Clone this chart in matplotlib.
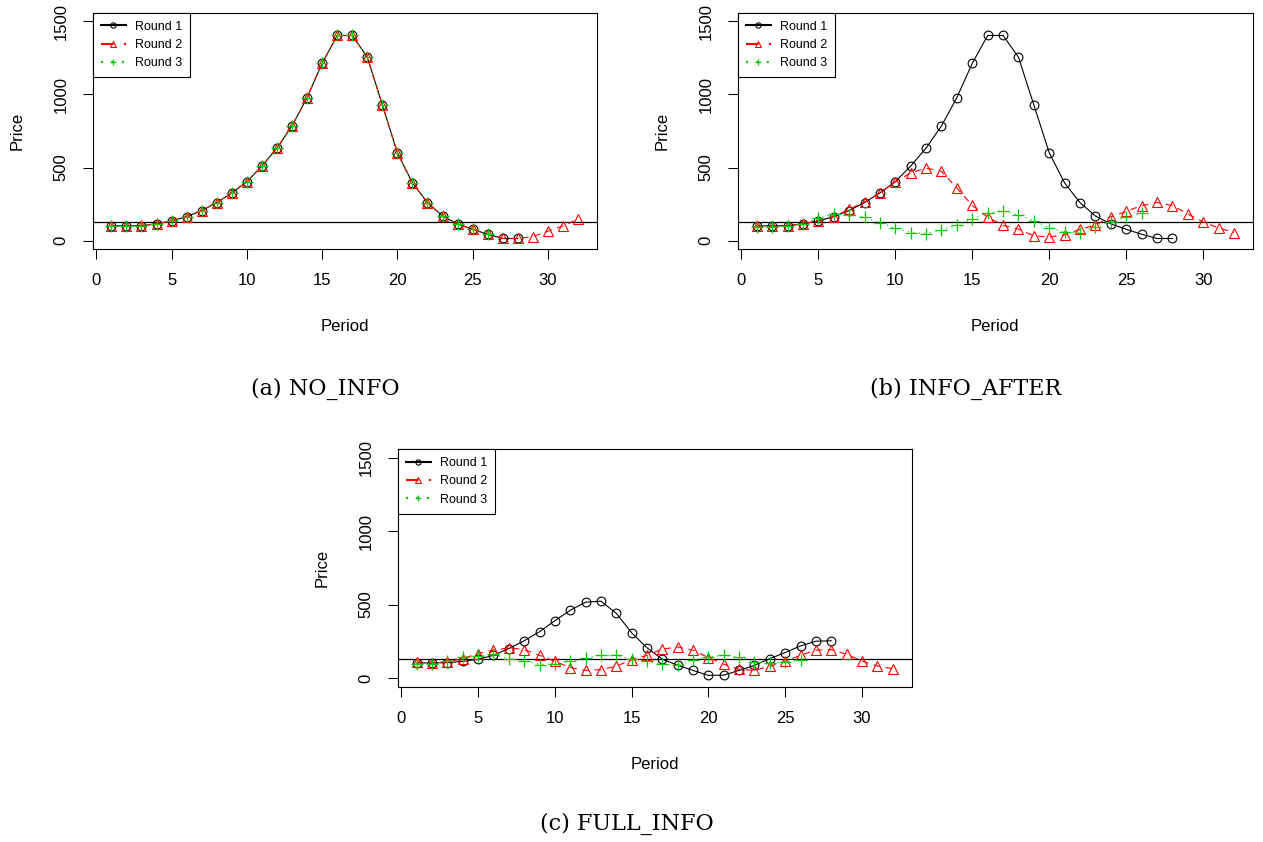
import numpy as np
import matplotlib
matplotlib.use('Agg')
import matplotlib.pyplot as plt

plt.rcParams['font.family'] = ['Liberation Sans', 'DejaVu Sans']

# Price per period
round1 = [100, 100, 102, 114, 134, 164, 205, 260, 326, 403, 510, 633, 785, 979,
          1213, 1404, 1404, 1256, 929, 601, 394, 260, 168, 114, 77, 43, 14, 14]

no_info_r1 = round1
no_info_r2 = round1 + [27, 64, 100, 146]
no_info_r3 = round1[:26]

after_r1 = round1
after_r2 = [100, 100, 102, 114, 137, 164, 214, 264, 326, 402, 463, 496, 474, 360,
            240, 160, 104, 78, 32, 24, 39, 76, 107, 162, 200, 239, 261, 239,
            183, 127, 87, 55]
after_r3 = [96, 96, 100, 114, 153, 182, 178, 162, 123, 85, 55, 48, 73, 107,
            148, 188, 203, 175, 134, 88, 57, 54, 95, 130, 162, 186]

full_r1 = [102, 102, 104, 113, 127, 154, 200, 253, 315, 390, 461, 516, 523, 440,
           307, 205, 127, 86, 51, 17, 19, 51, 86, 131, 173, 218, 250, 253]
full_r2 = [109, 102, 109, 132, 166, 189, 205, 193, 154, 113, 70, 51, 56, 79,
           125, 154, 196, 211, 189, 138, 93, 58, 51, 79, 113, 154, 189, 193,
           161, 115, 81, 63]
full_r3 = [97, 97, 113, 143, 148, 161, 132, 115, 91, 93, 113, 136, 154, 154,
           127, 112, 93, 86, 120, 143, 154, 143, 109, 102, 109, 120]

ref_price = 126
captions = ['(a) NO_INFO', '(b) INFO_AFTER', '(c) FULL_INFO']

W, H = 1263, 842
fig = plt.figure(figsize=(W / 100, H / 100), dpi=100)


def px_axes(left, top, right, bottom):
    return fig.add_axes([left / W, 1 - bottom / H, (right - left) / W, (bottom - top) / H])


def draw_panel(ax, r1, r2, r3):
    wpx = ax.get_position().width * W
    hpx = ax.get_position().height * H
    ax.axhline(ref_price, color='black', lw=0.9)
    ax.plot(np.arange(1, len(r1) + 1), r1, color='black', lw=0.8, marker='o',
            ms=6.3, mfc='none', mew=0.8, label='Round 1')
    ax.plot(np.arange(1, len(r2) + 1), r2, color='red', lw=0.8, ls=(0, (6, 5)),
            marker='^', ms=7.5, mfc='none', mew=0.8, label='Round 2')
    ax.plot(np.arange(1, len(r3) + 1), r3, color='#00CD00', lw=0.8, ls=(0, (1, 4)),
            marker='+', ms=8, mew=0.9, label='Round 3')
    ax.set_xlim(-0.24, 33.24)
    ax.set_ylim(-60, 1560)
    ax.set_xticks([0, 5, 10, 15, 20, 25, 30])
    ax.set_yticks([0, 500, 1000, 1500])
    ax.tick_params(length=7.2, width=0.75, labelsize=12, pad=10, direction='out')
    for lab in ax.get_yticklabels():
        lab.set_rotation(90)
        lab.set_va('center')
    for s in ax.spines.values():
        s.set_linewidth(0.8)
    ax.set_xlabel('Period', fontsize=12)
    ax.set_ylabel('Price', fontsize=12)
    ax.xaxis.set_label_coords(0.5, -70 / hpx)
    ax.yaxis.set_label_coords(-68 / wpx, 0.5)
    leg = ax.legend(loc='upper left', borderaxespad=0, fancybox=False,
                    edgecolor='black', framealpha=1, fontsize=9,
                    handlelength=2.0, handletextpad=0.7, borderpad=0.65,
                    labelspacing=0.5, markerscale=0.6)
    leg.get_frame().set_linewidth(0.8)
    for line in leg.get_lines():
        line.set_linewidth(1.5)


ax_a = px_axes(92.7, 12.7, 596.7, 249.3)
ax_b = px_axes(737.7, 12.7, 1253, 249.3)
ax_c = px_axes(397.7, 449, 911.7, 686.7)

draw_panel(ax_a, no_info_r1, no_info_r2, no_info_r3)
draw_panel(ax_b, after_r1, after_r2, after_r3)
draw_panel(ax_c, full_r1, full_r2, full_r3)

for (cx, cy), text in zip([(325, 395), (966, 395), (627, 829.5)], captions):
    fig.text(cx / W, 1 - cy / H, text, ha='center', va='baseline',
             fontsize=16, family='DejaVu Serif')

fig.savefig('out.png', dpi=100)
